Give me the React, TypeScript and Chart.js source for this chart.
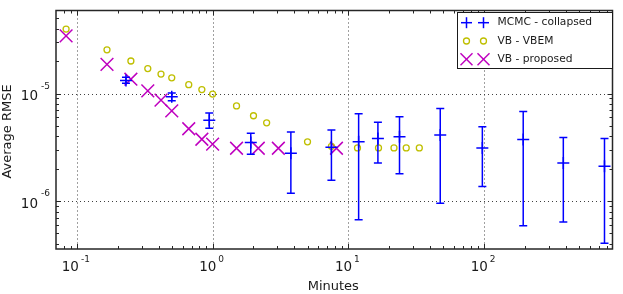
import React, { useEffect, useRef } from 'react';
import { Chart, registerables } from 'chart.js';

Chart.register(...registerables);

// ---- data ----
const mcmcMinutes = [0.23, 0.5, 0.945, 1.91, 3.77, 7.5, 11.9, 16.5, 23.8, 47.5, 97, 194, 383, 770];
const mcmcRmse = [1.32e-5, 9.33e-6, 5.65e-6, 3.51e-6, 2.79e-6, 3.16e-6, 3.56e-6, 3.82e-6, 3.96e-6, 4.12e-6, 3.12e-6, 3.74e-6, 2.26e-6, 2.11e-6];
const mcmcLower = [1.25e-5, 8.58e-6, 4.75e-6, 2.73e-6, 1.18e-6, 1.56e-6, 6.72e-7, 2.26e-6, 1.8e-6, 9.53e-7, 1.37e-6, 5.89e-7, 6.4e-7, 4.06e-7];
const mcmcUpper = [1.42e-5, 1.015e-5, 6.58e-6, 4.27e-6, 4.39e-6, 4.58e-6, 6.48e-6, 5.42e-6, 6.09e-6, 7.26e-6, 4.91e-6, 6.82e-6, 3.9e-6, 3.82e-6];

const vbemMinutes = [0.0833, 0.1667, 0.25, 0.333, 0.4167, 0.5, 0.667, 0.833, 1, 1.5, 2, 2.5, 5, 7.5, 11.67, 16.67, 21.67, 26.67, 33.3];
const vbemRmse = [3.98e-5, 2.55e-5, 2.01e-5, 1.71e-5, 1.52e-5, 1.4e-5, 1.21e-5, 1.09e-5, 9.9e-6, 7.67e-6, 6.22e-6, 5.34e-6, 3.56e-6, 3.23e-6, 3.12e-6, 3.12e-6, 3.12e-6, 3.12e-6, 3.12e-6];

const propMinutes = [0.0833, 0.1667, 0.25, 0.333, 0.4167, 0.5, 0.667, 0.833, 1, 1.5, 2.17, 3.05, 8.17];
const propRmse = [3.44e-5, 1.87e-5, 1.36e-5, 1.06e-5, 8.69e-6, 6.9e-6, 4.71e-6, 3.76e-6, 3.39e-6, 3.1e-6, 3.1e-6, 3.1e-6, 3.1e-6];

const xDecades = [0.1, 1, 10, 100];
const xExponents = ['-1', '0', '1', '2'];
const yDecades = [1e-6, 1e-5];
const yExponents = ['-6', '-5'];
const legendLabels = ['MCMC - collapsed', 'VB - VBEM', 'VB - proposed'];
const xTitle = 'Minutes';
const yTitle = 'Average RMSE';

const X_MIN = 0.0702;
const X_MAX = 882;
const Y_MIN = 3.585e-7;
const Y_MAX = 5.925e-5;

const BLUE = '#0000ff';
const YELLOW = '#bfbf00';
const MAGENTA = '#bf00bf';
const FONT = "'DejaVu Sans', sans-serif";

function line(ctx: CanvasRenderingContext2D, x1: number, y1: number, x2: number, y2: number) {
  ctx.beginPath();
  ctx.moveTo(x1, y1);
  ctx.lineTo(x2, y2);
  ctx.stroke();
}

function minorValues(min: number, max: number): number[] {
  const out: number[] = [];
  for (let e = -8; e <= 4; e++) {
    for (let k = 1; k <= 9; k++) {
      const v = k * Math.pow(10, e);
      if (v >= min && v <= max) out.push(v);
    }
  }
  return out;
}

const customPlugin = {
  id: 'matlabStyle',
  beforeDatasetsDraw(chart: any) {
    const { ctx, chartArea: a, scales } = chart;
    const x = scales.x;
    const y = scales.y;
    ctx.save();
    ctx.strokeStyle = '#404040';
    ctx.lineWidth = 1;
    ctx.setLineDash([1, 3]);
    xDecades.forEach((v) => {
      const px = Math.round(x.getPixelForValue(v)) + 0.5;
      line(ctx, px, a.top, px, a.bottom);
    });
    yDecades.forEach((v) => {
      const py = Math.round(y.getPixelForValue(v)) + 0.5;
      line(ctx, a.left, py, a.right, py);
    });
    ctx.restore();
  },
  afterDatasetsDraw(chart: any) {
    const { ctx, chartArea: a, scales } = chart;
    const x = scales.x;
    const y = scales.y;
    ctx.save();
    ctx.beginPath();
    ctx.rect(a.left, a.top, a.right - a.left, a.bottom - a.top);
    ctx.clip();
    ctx.strokeStyle = BLUE;
    ctx.lineWidth = 1.5;
    mcmcMinutes.forEach((m, i) => {
      const px = x.getPixelForValue(m);
      const pl = y.getPixelForValue(mcmcLower[i]);
      const pu = y.getPixelForValue(mcmcUpper[i]);
      line(ctx, px, pl, px, pu);
      line(ctx, px - 4, pl, px + 4, pl);
      line(ctx, px - 4, pu, px + 4, pu);
    });
    ctx.restore();
  },
  afterDraw(chart: any) {
    const { ctx, chartArea: a, scales } = chart;
    const x = scales.x;
    const y = scales.y;
    ctx.save();
    // ticks
    ctx.strokeStyle = '#262626';
    ctx.lineWidth = 1;
    const xmin = minorValues(X_MIN, X_MAX);
    xmin.forEach((v) => {
      const major = xDecades.includes(v);
      const len = major ? 5 : 3;
      const px = Math.round(x.getPixelForValue(v)) + 0.5;
      line(ctx, px, a.bottom, px, a.bottom - len);
      line(ctx, px, a.top, px, a.top + len);
    });
    const ymin = minorValues(Y_MIN, Y_MAX);
    ymin.forEach((v) => {
      const major = yDecades.some((d) => Math.abs(d - v) / d < 1e-9);
      const len = major ? 5 : 3;
      const py = Math.round(y.getPixelForValue(v)) + 0.5;
      line(ctx, a.left, py, a.left + len, py);
      line(ctx, a.right, py, a.right - len, py);
    });
    // frame
    ctx.lineWidth = 1.5;
    ctx.strokeStyle = '#262626';
    ctx.strokeRect(a.left, a.top, a.right - a.left, a.bottom - a.top);

    // tick labels
    ctx.fillStyle = '#1a1a1a';
    ctx.textBaseline = 'alphabetic';
    const bigFont = `13.5px ${FONT}`;
    const smallFont = `9px ${FONT}`;
    xDecades.forEach((v, i) => {
      const px = x.getPixelForValue(v);
      ctx.font = bigFont;
      const w1 = ctx.measureText('10').width;
      ctx.font = smallFont;
      const w2 = ctx.measureText(xExponents[i]).width;
      const total = w1 + 2 + w2;
      const left = px - 1 - total / 2;
      ctx.font = bigFont;
      ctx.textAlign = 'left';
      ctx.fillText('10', left, a.bottom + 22);
      ctx.font = smallFont;
      ctx.fillText(xExponents[i], left + w1 + 2, a.bottom + 13.3);
    });
    yDecades.forEach((v, i) => {
      const py = y.getPixelForValue(v);
      ctx.font = smallFont;
      const w2 = ctx.measureText(yExponents[i]).width;
      const right = a.left - 6;
      ctx.textAlign = 'left';
      ctx.fillText(yExponents[i], right - w2, py - 5);
      ctx.font = bigFont;
      ctx.textAlign = 'right';
      ctx.fillText('10', right - w2 - 3, py + 6.7);
    });

    // axis titles
    ctx.font = `13px ${FONT}`;
    ctx.textAlign = 'center';
    ctx.textBaseline = 'middle';
    ctx.fillText(xTitle, (a.left + a.right) / 2 - 1, 286.5);
    ctx.save();
    ctx.translate(8, 131.5);
    ctx.rotate(-Math.PI / 2);
    ctx.fillText(yTitle, 0, 0);
    ctx.restore();

    // legend
    const bx = 457.5, by = 12.5, bw = 155, bh = 56;
    ctx.fillStyle = '#ffffff';
    ctx.fillRect(bx, by, bw, bh);
    ctx.lineWidth = 1;
    ctx.strokeStyle = '#1a1a1a';
    ctx.strokeRect(bx, by, bw, bh);
    const rows = [22.7, 41, 59.3];
    const mx = [466.5, 483.5];
    // MCMC plus
    ctx.strokeStyle = BLUE;
    ctx.lineWidth = 1.5;
    mx.forEach((cx) => {
      line(ctx, cx - 5.5, rows[0], cx + 5.5, rows[0]);
      line(ctx, cx, rows[0] - 5.5, cx, rows[0] + 5.5);
    });
    // VBEM circle
    ctx.strokeStyle = YELLOW;
    ctx.lineWidth = 1.3;
    mx.forEach((cx) => {
      ctx.beginPath();
      ctx.arc(cx, rows[1], 3, 0, Math.PI * 2);
      ctx.stroke();
    });
    // proposed X
    ctx.strokeStyle = MAGENTA;
    ctx.lineWidth = 1.5;
    mx.forEach((cx) => {
      line(ctx, cx - 6, rows[2] - 6, cx + 6, rows[2] + 6);
      line(ctx, cx - 6, rows[2] + 6, cx + 6, rows[2] - 6);
    });
    ctx.fillStyle = '#1a1a1a';
    ctx.font = `10.7px ${FONT}`;
    ctx.textAlign = 'left';
    ctx.textBaseline = 'middle';
    legendLabels.forEach((t, i) => ctx.fillText(t, 497.5, rows[i]));
    ctx.restore();
  },
};

export default function App() {
  const ref = useRef<HTMLCanvasElement | null>(null);
  useEffect(() => {
    if (!ref.current) return;
    const chart = new Chart(ref.current, {
      type: 'scatter',
      data: {
        datasets: [
          {
            label: legendLabels[0],
            data: mcmcMinutes.map((m, i) => ({ x: m, y: mcmcRmse[i] })),
            pointStyle: 'cross',
            pointRadius: 6,
            borderColor: BLUE,
            backgroundColor: BLUE,
            pointBorderWidth: 1.5,
            showLine: false,
          },
          {
            label: legendLabels[1],
            data: vbemMinutes.map((m, i) => ({ x: m, y: vbemRmse[i] })),
            pointStyle: 'circle',
            pointRadius: 3,
            borderColor: YELLOW,
            backgroundColor: 'rgba(0,0,0,0)',
            pointBorderWidth: 1.3,
            showLine: false,
          },
          {
            label: legendLabels[2],
            data: propMinutes.map((m, i) => ({ x: m, y: propRmse[i] })),
            pointStyle: 'crossRot',
            pointRadius: 9,
            borderColor: MAGENTA,
            backgroundColor: MAGENTA,
            pointBorderWidth: 1.5,
            showLine: false,
          },
        ],
      },
      options: {
        animation: false,
        responsive: false,
        events: [],
        layout: { padding: { left: 56, top: 5, right: 8, bottom: 45 } },
        plugins: { legend: { display: false }, tooltip: { enabled: false } },
        scales: {
          x: { type: 'logarithmic', min: X_MIN, max: X_MAX, display: false },
          y: { type: 'logarithmic', min: Y_MIN, max: Y_MAX, display: false },
        },
      },
      plugins: [customPlugin],
    });
    return () => chart.destroy();
  }, []);
  return (
    <div style={{ position: 'fixed', left: 0, top: 0, width: 623, height: 294, background: '#fff' }}>
      <canvas ref={ref} width={623} height={294} style={{ width: 623, height: 294, display: 'block' }} />
    </div>
  );
}
